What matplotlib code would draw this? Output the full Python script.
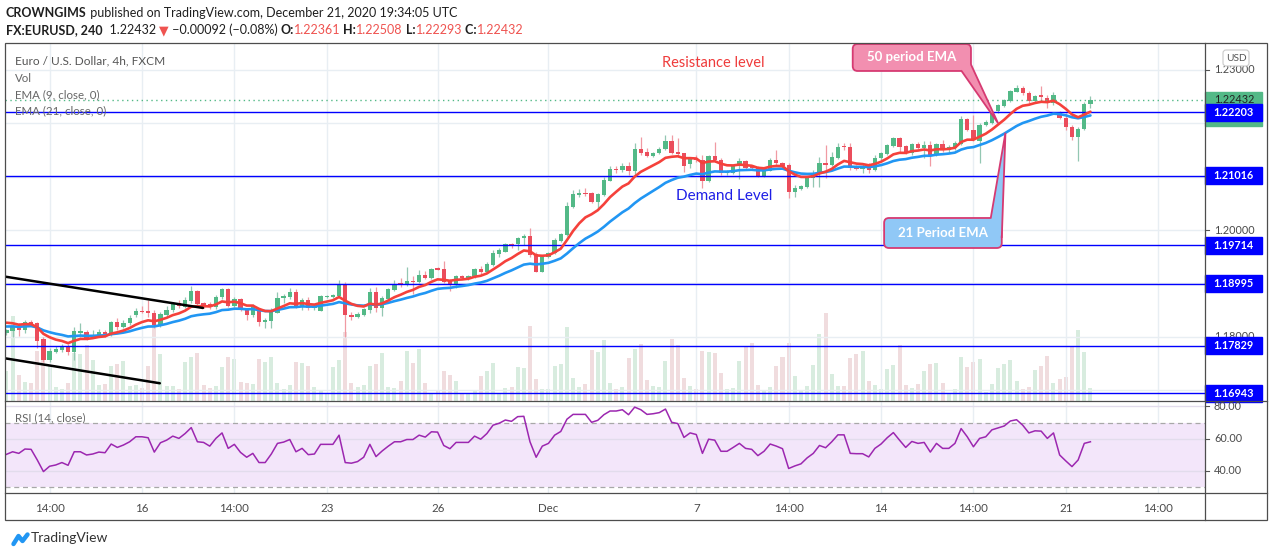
import numpy as np
import matplotlib
matplotlib.use("Agg")
import matplotlib.pyplot as plt
import matplotlib.transforms as mtrans
from matplotlib.patches import Rectangle, Polygon, FancyBboxPatch
from matplotlib.lines import Line2D

plt.rcParams['font.family'] = ['Lato', 'DejaVu Sans']

# ---- FX:EURUSD 4h candles ----
opens = [
    1.1807, 1.1810, 1.1820, 1.1812, 1.1828, 1.1825, 1.1796, 1.1757, 1.1772, 1.1775,
    1.1783, 1.1772, 1.1808, 1.1809, 1.1799, 1.1802, 1.1809, 1.1805, 1.1827, 1.1818,
    1.1825, 1.1840, 1.1848, 1.1848, 1.1845, 1.1821, 1.1841, 1.1850, 1.1863, 1.1855,
    1.1867, 1.1886, 1.1863, 1.1861, 1.1855, 1.1874, 1.1889, 1.1858, 1.1870, 1.1851,
    1.1841, 1.1852, 1.1828, 1.1830, 1.1845, 1.1872, 1.1874, 1.1883, 1.1858, 1.1869,
    1.1853, 1.1849, 1.1875, 1.1875, 1.1876, 1.1899, 1.1841, 1.1838, 1.1841, 1.1850,
    1.1883, 1.1853, 1.1871, 1.1888, 1.1900, 1.1898, 1.1905, 1.1903, 1.1916, 1.1911,
    1.1928, 1.1927, 1.1906, 1.1899, 1.1914, 1.1910, 1.1913, 1.1927, 1.1921, 1.1935,
    1.1955, 1.1959, 1.1974, 1.1973, 1.1985, 1.1988, 1.1955, 1.1922, 1.1949, 1.1956,
    1.1980, 1.1991, 1.2043, 1.2066, 1.2070, 1.2069, 1.2053, 1.2066, 1.2092, 1.2114,
    1.2112, 1.2120, 1.2111, 1.2151, 1.2146, 1.2139, 1.2144, 1.2151, 1.2167, 1.2146,
    1.2144, 1.2124, 1.2135, 1.2132, 1.2092, 1.2139, 1.2132, 1.2106, 1.2106, 1.2119,
    1.2129, 1.2119, 1.2116, 1.2101, 1.2111, 1.2131, 1.2125, 1.2122, 1.2072, 1.2077,
    1.2081, 1.2097, 1.2106, 1.2126, 1.2121, 1.2134, 1.2157, 1.2156, 1.2119, 1.2115,
    1.2120, 1.2112, 1.2134, 1.2143, 1.2158, 1.2172, 1.2157, 1.2144, 1.2161, 1.2153,
    1.2159, 1.2141, 1.2161, 1.2150, 1.2153, 1.2161, 1.2207, 1.2188, 1.2167, 1.2196,
    1.2201, 1.2222, 1.2233, 1.2242, 1.2259, 1.2265, 1.2257, 1.2242, 1.2252, 1.2248,
    1.2237, 1.2220, 1.2209, 1.2192, 1.2175, 1.2190, 1.22361]
highs = [
    1.1814, 1.1825, 1.1825, 1.1832, 1.1832, 1.1827, 1.1800, 1.1779, 1.1782, 1.1786,
    1.1786, 1.1819, 1.1825, 1.1813, 1.1813, 1.1814, 1.1813, 1.1829, 1.1835, 1.1831,
    1.1840, 1.1853, 1.1857, 1.1869, 1.1850, 1.1847, 1.1857, 1.1866, 1.1868, 1.1874,
    1.1895, 1.1888, 1.1866, 1.1866, 1.1878, 1.1891, 1.1891, 1.1874, 1.1873, 1.1853,
    1.1862, 1.1853, 1.1835, 1.1853, 1.1883, 1.1881, 1.1891, 1.1889, 1.1872, 1.1875,
    1.1860, 1.1878, 1.1878, 1.1881, 1.1906, 1.1903, 1.1847, 1.1847, 1.1853, 1.1892,
    1.1894, 1.1876, 1.1891, 1.1906, 1.1910, 1.1930, 1.1913, 1.1926, 1.1924, 1.1928,
    1.1930, 1.1942, 1.1909, 1.1916, 1.1916, 1.1916, 1.1928, 1.1933, 1.1941, 1.1963,
    1.1966, 1.1976, 1.1976, 1.1986, 1.1992, 1.2003, 1.1958, 1.1951, 1.1959, 1.1985,
    1.1995, 1.2053, 1.2075, 1.2076, 1.2078, 1.2072, 1.2069, 1.2100, 1.2119, 1.2119,
    1.2125, 1.2128, 1.2162, 1.2175, 1.2153, 1.2147, 1.2156, 1.2178, 1.2178, 1.2172,
    1.2145, 1.2137, 1.2140, 1.2141, 1.2141, 1.2165, 1.2134, 1.2112, 1.2122, 1.2134,
    1.2132, 1.2122, 1.2119, 1.2115, 1.2134, 1.2149, 1.2128, 1.2125, 1.2084, 1.2085,
    1.2101, 1.2112, 1.2137, 1.2159, 1.2147, 1.2162, 1.2162, 1.2162, 1.2122, 1.2125,
    1.2125, 1.2140, 1.2147, 1.2161, 1.2175, 1.2174, 1.2160, 1.2162, 1.2164, 1.2166,
    1.2166, 1.2163, 1.2168, 1.2159, 1.2166, 1.2214, 1.2210, 1.2215, 1.2200, 1.2206,
    1.2223, 1.2236, 1.2246, 1.2262, 1.2272, 1.2270, 1.2260, 1.2253, 1.2270, 1.2252,
    1.2259, 1.2223, 1.2220, 1.2197, 1.2192, 1.2240, 1.22508]
lows = [
    1.1804, 1.1800, 1.1802, 1.1808, 1.1820, 1.1779, 1.1752, 1.1752, 1.1769, 1.1772,
    1.1766, 1.1757, 1.1800, 1.1794, 1.1797, 1.1800, 1.1800, 1.1802, 1.1813, 1.1816,
    1.1822, 1.1838, 1.1844, 1.1838, 1.1816, 1.1818, 1.1838, 1.1847, 1.1853, 1.1853,
    1.1863, 1.1860, 1.1853, 1.1852, 1.1852, 1.1870, 1.1856, 1.1856, 1.1849, 1.1832,
    1.1838, 1.1821, 1.1816, 1.1816, 1.1844, 1.1864, 1.1870, 1.1853, 1.1850, 1.1850,
    1.1850, 1.1848, 1.1872, 1.1872, 1.1875, 1.1799, 1.1832, 1.1835, 1.1839, 1.1845,
    1.1847, 1.1839, 1.1869, 1.1885, 1.1894, 1.1895, 1.1881, 1.1901, 1.1909, 1.1909,
    1.1925, 1.1900, 1.1885, 1.1891, 1.1908, 1.1907, 1.1910, 1.1918, 1.1919, 1.1933,
    1.1949, 1.1958, 1.1966, 1.1963, 1.1972, 1.1950, 1.1921, 1.1921, 1.1948, 1.1955,
    1.1978, 1.1989, 1.2041, 1.2061, 1.2064, 1.2051, 1.2041, 1.2064, 1.2091, 1.2106,
    1.2109, 1.2103, 1.2103, 1.2141, 1.2137, 1.2137, 1.2142, 1.2149, 1.2142, 1.2136,
    1.2109, 1.2117, 1.2127, 1.2078, 1.2090, 1.2128, 1.2103, 1.2103, 1.2104, 1.2095,
    1.2114, 1.2113, 1.2100, 1.2099, 1.2110, 1.2119, 1.2116, 1.2059, 1.2061, 1.2075,
    1.2079, 1.2081, 1.2081, 1.2097, 1.2119, 1.2133, 1.2150, 1.2112, 1.2112, 1.2107,
    1.2107, 1.2110, 1.2132, 1.2140, 1.2156, 1.2144, 1.2142, 1.2141, 1.2151, 1.2134,
    1.2120, 1.2139, 1.2147, 1.2144, 1.2150, 1.2159, 1.2185, 1.2166, 1.2125, 1.2194,
    1.2198, 1.2219, 1.2231, 1.2240, 1.2258, 1.2253, 1.2237, 1.2240, 1.2240, 1.2228,
    1.2235, 1.2207, 1.2187, 1.2169, 1.2130, 1.2188, 1.22293]
closes = [
    1.1812, 1.1821, 1.1812, 1.1828, 1.1824, 1.1793, 1.1757, 1.1774, 1.1777, 1.1782,
    1.1772, 1.1810, 1.1810, 1.1796, 1.1803, 1.1809, 1.1805, 1.1827, 1.1818, 1.1825,
    1.1835, 1.1848, 1.1847, 1.1844, 1.1822, 1.1843, 1.1850, 1.1861, 1.1857, 1.1869,
    1.1886, 1.1862, 1.1857, 1.1855, 1.1875, 1.1889, 1.1858, 1.1871, 1.1851, 1.1841,
    1.1858, 1.1828, 1.1832, 1.1847, 1.1873, 1.1876, 1.1883, 1.1858, 1.1869, 1.1853,
    1.1857, 1.1876, 1.1876, 1.1878, 1.1899, 1.1840, 1.1838, 1.1843, 1.1852, 1.1883,
    1.1853, 1.1872, 1.1890, 1.1899, 1.1897, 1.1905, 1.1903, 1.1916, 1.1911, 1.1927,
    1.1926, 1.1903, 1.1898, 1.1914, 1.1910, 1.1914, 1.1927, 1.1922, 1.1936, 1.1956,
    1.1963, 1.1974, 1.1971, 1.1985, 1.1988, 1.1954, 1.1922, 1.1949, 1.1956, 1.1981,
    1.1992, 1.2045, 1.2067, 1.2070, 1.2068, 1.2053, 1.2067, 1.2094, 1.2114, 1.2112,
    1.2120, 1.2111, 1.2151, 1.2145, 1.2139, 1.2145, 1.2152, 1.2167, 1.2145, 1.2142,
    1.2120, 1.2135, 1.2131, 1.2092, 1.2139, 1.2131, 1.2106, 1.2109, 1.2120, 1.2129,
    1.2117, 1.2116, 1.2101, 1.2112, 1.2131, 1.2125, 1.2119, 1.2072, 1.2078, 1.2082,
    1.2099, 1.2107, 1.2126, 1.2122, 1.2136, 1.2156, 1.2156, 1.2117, 1.2114, 1.2120,
    1.2112, 1.2134, 1.2144, 1.2159, 1.2172, 1.2156, 1.2144, 1.2161, 1.2153, 1.2159,
    1.2141, 1.2161, 1.2150, 1.2155, 1.2163, 1.2207, 1.2187, 1.2169, 1.2197, 1.2203,
    1.2219, 1.2234, 1.2244, 1.2260, 1.2265, 1.2256, 1.2242, 1.2251, 1.2249, 1.2237,
    1.2253, 1.2209, 1.2192, 1.2175, 1.2190, 1.2236, 1.22432]
# volume, hundreds (relative bar heights)
volume = [
    30, 85, 26, 19, 18, 50, 54, 36, 14, 12, 18, 48, 47, 56, 41, 16, 17, 35, 37, 40,
    15, 16, 13, 35, 75, 47, 15, 15, 12, 39, 44, 48, 16, 13, 15, 34, 44, 42, 19, 18,
    17, 42, 39, 44, 18, 12, 16, 39, 38, 35, 14, 10, 7, 34, 41, 69, 18, 14, 16, 35,
    37, 48, 14, 13, 20, 50, 38, 52, 18, 8, 11, 30, 26, 20, 7, 8, 10, 25, 30, 38,
    8, 13, 14, 34, 33, 75, 22, 12, 12, 35, 37, 74, 23, 14, 17, 51, 49, 61, 18, 12,
    14, 43, 52, 57, 21, 15, 14, 40, 62, 56, 23, 15, 12, 50, 49, 48, 28, 12, 13, 40,
    55, 58, 16, 11, 14, 35, 44, 58, 25, 11, 15, 36, 67, 88, 27, 15, 15, 43, 47, 50,
    20, 16, 12, 32, 36, 56, 16, 13, 17, 30, 37, 38, 18, 7, 12, 44, 34, 39, 42, 9,
    17, 33, 37, 41, 20, 12, 14, 31, 35, 45, 18, 22, 24, 55, 71, 49, 13]
rsi = [
    50.3, 51.9, 50.9, 53.6, 53.4, 46.8, 39.6, 42.9, 43.7, 45.2,
    43.5, 51.9, 51.9, 49.9, 50.5, 51.7, 51.3, 56.7, 54.6, 56.1,
    58.1, 61.2, 61.2, 60.6, 51.7, 57.5, 59.1, 61.6, 60.2, 63.2,
    66.9, 58.1, 57.7, 55.4, 60.2, 63.6, 54.0, 56.5, 51.5, 48.5,
    50.9, 45.2, 45.2, 50.5, 57.1, 57.9, 59.5, 51.9, 54.0, 50.1,
    50.5, 56.5, 56.5, 56.5, 62.2, 45.2, 44.8, 45.8, 48.5, 56.5,
    48.9, 52.4, 55.4, 58.1, 58.1, 59.5, 59.5, 62.2, 61.0, 64.3,
    64.1, 55.8, 53.8, 57.7, 57.7, 57.7, 61.6, 59.7, 63.2, 68.4,
    69.6, 71.6, 70.8, 73.7, 73.9, 58.1, 48.5, 55.4, 57.1, 62.2,
    64.5, 72.1, 75.1, 75.1, 75.1, 70.2, 71.4, 74.9, 77.2, 77.2,
    78.0, 74.9, 79.6, 78.0, 75.1, 75.5, 76.2, 78.4, 70.2, 69.4,
    60.8, 63.6, 62.6, 50.9, 59.7, 59.1, 52.2, 52.2, 54.6, 57.1,
    54.0, 53.4, 49.5, 52.2, 56.7, 55.4, 53.8, 41.5, 43.1, 44.4,
    48.1, 50.9, 55.8, 54.4, 58.1, 62.4, 62.4, 50.9, 50.7, 50.7,
    48.7, 54.0, 56.7, 60.6, 63.8, 59.1, 54.6, 58.3, 57.1, 57.7,
    51.7, 57.1, 54.0, 54.0, 57.1, 66.3, 61.2, 55.0, 60.2, 61.2,
    65.5, 66.7, 67.9, 71.0, 71.8, 68.4, 63.6, 64.9, 64.7, 60.2,
    63.6, 49.9, 46.2, 42.7, 46.8, 57.1, 58.1]

ema9_seed, ema21_seed = 1.1830, 1.1820
levels = [1.22203, 1.21016, 1.19714, 1.18995, 1.17829, 1.16943]
last_price = 1.22432
price_ticks = [1.17, 1.18, 1.19, 1.20, 1.21, 1.22, 1.23]
rsi_ticks = [40, 60, 80]
tick_idx = [7, 22, 37, 52, 70, 88, 112, 127, 142, 157, 172, 187]
tick_lbl = ["14:00", "16", "14:00", "23", "26", "Dec", "7", "14:00", "14", "14:00", "21", "14:00"]
trend_upper = ([-0.4, 31.9], [1.1913, 1.1854])
trend_lower = ([-0.4, 24.9], [1.1760, 1.1713])

GREEN, RED = '#53b987', '#eb4d5c'
WICK_UP, WICK_DN = '#93c7b2', '#f09aa3'
VOL_UP, VOL_DN = '#d8ecdf', '#f0dcde'
GRID = '#e8eef3'
TXT = '#4a4a4a'


def ema(values, span, seed):
    a = 2 / (span + 1)
    out, prev = [], seed
    for v in values:
        prev = prev + a * (v - prev)
        out.append(prev)
    return np.array(out)


W, H = 1274, 557
fig = plt.figure(figsize=(W / 100, H / 100), dpi=100)
PX = mtrans.Affine2D().scale(1 / W, -1 / H).translate(0, 1) + fig.transFigure


def rect_px(l, t, r, b):
    return [l / W, 1 - b / H, (r - l) / W, (b - t) / H]


main_rect = rect_px(5, 43, 1205, 400.5)
vax = fig.add_axes(main_rect)
ax = fig.add_axes(main_rect)
ax.set_facecolor('none')
rax = fig.add_axes(rect_px(5, 401.5, 1205, 493))

XLIM = (-0.24, 194.6)
for a in (vax, ax, rax):
    a.set_xlim(*XLIM)
    a.set_yticks([])
    for s in a.spines.values():
        s.set_visible(False)
for a in (vax, ax):
    a.set_xticks([])
ax.set_ylim(1.16807, 1.23502)
rax.set_ylim(26.3, 83.1)

x = np.arange(len(closes))
o, h, l, c = (np.array(v) for v in (opens, highs, lows, closes))
up = c >= o

# volume underneath
vax.bar(x, volume, width=0.65, color=[VOL_UP if u else VOL_DN for u in up], linewidth=0)
vax.set_ylim(0, max(volume) / 0.246)

# grid
for p in price_ticks:
    ax.axhline(p, color=GRID, lw=1, zorder=0)
for t in tick_idx:
    ax.axvline(t, color=GRID, lw=1, zorder=0)
    rax.axvline(t, color=GRID, lw=1, zorder=0)

# candles
ax.vlines(x[up], l[up], h[up], color=WICK_UP, lw=0.9, zorder=3)
ax.vlines(x[~up], l[~up], h[~up], color=WICK_DN, lw=0.9, zorder=3)
body_lo = np.minimum(o, c)
body_h = np.maximum(np.abs(c - o), 0.00005)
ax.bar(x[up], body_h[up], bottom=body_lo[up], width=0.7, color=GREEN, linewidth=0, zorder=3.5)
ax.bar(x[~up], body_h[~up], bottom=body_lo[~up], width=0.7, color=RED, linewidth=0, zorder=3.5)

# moving averages
ax.plot(x, ema(closes, 21, ema21_seed), color='#2196f3', lw=1.9, zorder=4.8, solid_capstyle='round')
ax.plot(x, ema(closes, 9, ema9_seed), color='#f5413b', lw=1.9, zorder=5, solid_capstyle='round')

# support / resistance levels
for lv in levels:
    ax.axhline(lv, color='#0000ff', lw=1.0, zorder=4.5)
ax.axhline(last_price, color=GREEN, lw=1, ls=(0, (1, 2.5)), zorder=4.4)

# trend lines
ax.plot(*trend_upper, color='black', lw=1.8, zorder=6, solid_capstyle='round')
ax.plot(*trend_lower, color='black', lw=1.8, zorder=6, solid_capstyle='round')

# text annotations
ax.text(114.7, 1.23127, 'Resistance level', color='#ef3b3b', fontsize=10.5,
        ha='center', va='center', zorder=7)
ax.text(116.6, 1.20637, 'Demand Level', color='#1e1ee6', fontsize=11,
        ha='center', va='center', zorder=7)


def callout(x0, x1, y0, y1, tail, fc, label):
    ec = '#d63a72'
    ax.add_patch(FancyBboxPatch((x0, y0), x1 - x0, y1 - y0,
                                boxstyle='round,pad=0,rounding_size=0.8',
                                mutation_aspect=0.00115, fc=fc, ec=ec, lw=1.3, zorder=8))
    ax.add_patch(Polygon(tail, closed=False, fc=fc, ec=ec, lw=1.3, zorder=8.1))
    ax.text((x0 + x1) / 2, (y0 + y1) / 2, label, color='white', fontweight='bold',
            fontsize=9.5, ha='center', va='center', zorder=9)


callout(137.4, 156.6, 1.22978, 1.23483,
        [(155.0, 1.22990), (161.0, 1.2200), (156.6, 1.2310)], '#f28fb0', '50 period EMA')
callout(142.5, 161.6, 1.19663, 1.20225,
        [(159.8, 1.20215), (162.2, 1.2182), (161.6, 1.1985)], '#90c8f6', '21 Period EMA')

# RSI panel
rax.axhspan(30, 70, color='#f3e6fa', zorder=0, lw=0)
for r in rsi_ticks:
    rax.axhline(r, color='#e2dcec', lw=1, zorder=0.5)
for r in (30, 70):
    rax.axhline(r, color='#a8a8a8', lw=0.9, ls=(0, (4, 3)), zorder=1)
rax.plot(x, rsi, color='#9c27b0', lw=1.1, zorder=3)
rax.set_xticks(tick_idx)
rax.set_xticklabels(tick_lbl, fontsize=8.3, color=TXT)
rax.tick_params(axis='x', length=0, pad=7)

# right price scale (labels hidden under a level tag are not shown, as on the chart)
yax = mtrans.blended_transform_factory(ax.transAxes, ax.transData)
tag_half = 8.5 / 5340
covered = levels + [last_price, 1.2196]
for p in price_ticks:
    ax.plot([1.0, 1.0035], [p, p], transform=yax, color='#555555', lw=0.8, clip_on=False)
    if min(abs(p - q) for q in covered) > tag_half:
        ax.text(1.0075, p, f"{p:.5f}", transform=yax, va='center', ha='left',
                fontsize=7.8, color=TXT, clip_on=False)
ryax = mtrans.blended_transform_factory(rax.transAxes, rax.transData)
for r in rsi_ticks:
    rax.plot([1.0, 1.0035], [r, r], transform=ryax, color='#555555', lw=0.8, clip_on=False)
    rax.text(1.0075, r, f"{r:.2f}", transform=ryax, va='center', ha='left',
             fontsize=7.8, color=TXT, clip_on=False)

ax.add_patch(Rectangle((1.0, 1.21948), 0.0475, 1.22584 - 1.21948, transform=yax,
                       color=GREEN, clip_on=False, zorder=10))
ax.text(1.0075, last_price + 0.0001, f"{last_price:.5f}", transform=yax, va='center', ha='left',
        fontsize=7.8, color='#222222', clip_on=False, zorder=11)
for lv in levels:
    ax.add_patch(Rectangle((1.0, lv - tag_half), 0.0475, 2 * tag_half, transform=yax,
                           color='#0000ff', clip_on=False, zorder=12))
    ax.text(1.0238, lv, f"{lv:.5f}", transform=yax, va='center', ha='center',
            fontsize=7.8, color='white', fontweight='bold', clip_on=False, zorder=13)

# USD badge
fig.add_artist(FancyBboxPatch((1223, 50), 26, 16, boxstyle='round,pad=0,rounding_size=3',
                              transform=PX, fc='white', ec='#c9c9c9', lw=0.8, zorder=20))
fig.text(1236, 58.5, 'USD', transform=PX, ha='center', va='center', fontsize=7.3,
         color='#555555', zorder=21)

# legend texts
fig.text(15, 61, 'Euro / U.S. Dollar, 4h, FXCM', transform=PX, va='center',
         fontsize=8.6, color='#555555', zorder=20)
for yy, s in ((78, 'Vol'), (95, 'EMA (9, close, 0)'), (111, 'EMA (21, close, 0)')):
    fig.text(15, yy, s, transform=PX, va='center', fontsize=8.3, color='#666666', zorder=20)
fig.text(15, 418, 'RSI (14, close)', transform=PX, va='center', fontsize=8.3,
         color='#666666', zorder=20)

# chart frame
FR = '#4d4d4d'
fig.add_artist(Rectangle((5, 43), 1262, 477, transform=PX, fill=False, ec=FR, lw=0.9, zorder=30))
for seg in (((1205, 1205), (43, 520)), ((5, 1267), (401, 401)), ((5, 1267), (493, 493))):
    fig.add_artist(Line2D(seg[0], seg[1], transform=PX, color=FR, lw=0.9, zorder=30))


# header
def chain(pieces, x0, y0, size):
    prev = None
    for txt, color, weight in pieces:
        if prev is None:
            prev = fig.text(x0, y0, txt, transform=PX, color=color, fontsize=size,
                            fontweight=weight, va='center', ha='left')
        else:
            prev = ax.annotate(txt, xy=(1, 0), xycoords=prev, color=color, fontsize=size,
                               fontweight=weight, va='bottom', ha='left')


DK, RD = '#1f1f1f', '#ef5350'
chain([('CROWNGIMS', DK, 'bold'),
       (' published on TradingView.com, December 21, 2020 19:34:05 UTC', DK, 'normal')],
      6, 13, 9.0)
chain([('FX:EURUSD, 240', DK, 'bold'), ('  1.22432 ', DK, 'normal'), ('▼', RD, 'normal'),
       (' \u22120.00092 (\u22120.08%) ', DK, 'normal'), ('O:', DK, 'bold'), ('1.22361', RD, 'normal'),
       (' H:', DK, 'bold'), ('1.22508', RD, 'normal'), (' L:', DK, 'bold'), ('1.22293', RD, 'normal'),
       (' C:', DK, 'bold'), ('1.22432', RD, 'normal')],
      6, 30, 9.0)

# TradingView footer
fig.add_artist(Line2D([13.5, 18.5, 22.5, 27.5], [544, 536, 541, 534.5], transform=PX,
                      color='#2196f3', lw=3.2, solid_capstyle='round', solid_joinstyle='round'))
fig.text(31, 538, 'TradingView', transform=PX, va='center', fontsize=10, color='#333333')

fig.savefig('out.png', dpi=100)
